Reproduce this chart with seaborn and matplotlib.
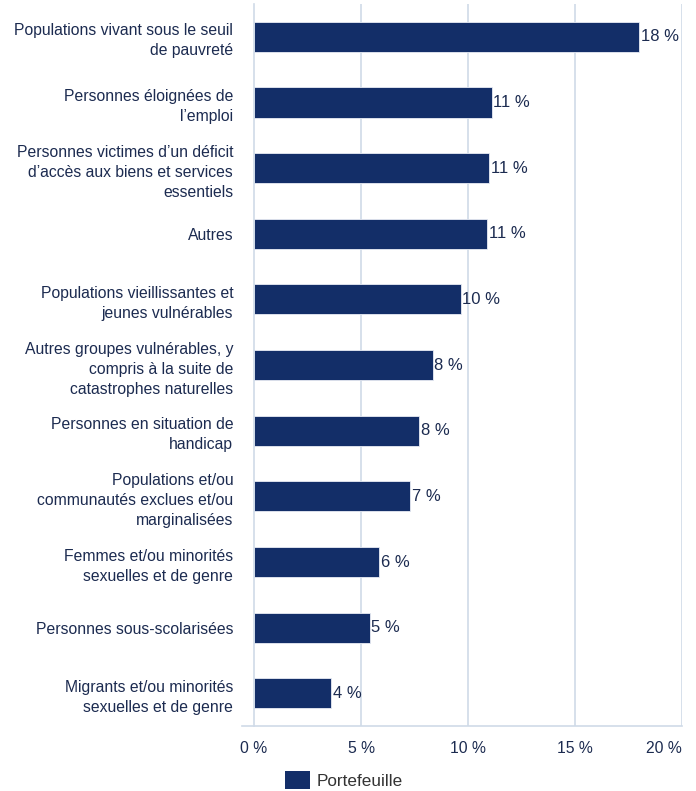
import matplotlib
matplotlib.use("Agg")
import matplotlib.pyplot as plt
import seaborn as sns
import pandas as pd
import numpy as np

categories = [
    "Populations vivant sous le seuil\nde pauvreté",
    "Personnes éloignées de\nl’emploi",
    "Personnes victimes d’un déficit\nd’accès aux biens et services\nessentiels",
    "Autres",
    "Populations vieillissantes et\njeunes vulnérables",
    "Autres groupes vulnérables, y\ncompris à la suite de\ncatastrophes naturelles",
    "Personnes en situation de\nhandicap",
    "Populations et/ou\ncommunautés exclues et/ou\nmarginalisées",
    "Femmes et/ou minorités\nsexuelles et de genre",
    "Personnes sous-scolarisées",
    "Migrants et/ou minorités\nsexuelles et de genre",
]
values = [18.0, 11.1, 11.0, 10.9, 9.65, 8.35, 7.7, 7.3, 5.85, 5.4, 3.6]
labels = ["18 %", "11 %", "11 %", "11 %", "10 %", "8 %", "8 %", "7 %", "6 %", "5 %", "4 %"]
xticks = [0, 5, 10, 15, 20]
xticklabels = ["0 %", "5 %", "10 %", "15 %", "20 %"]
series_name = "Portefeuille"

sns.set_theme(style="white")
plt.rcParams['font.family'] = ['Liberation Sans', 'DejaVu Sans']

navy = "#132e68"
textc = "#1c2b50"
gridc = "#cfdae8"
fs = 11.3

df = pd.DataFrame({"cat": categories, "val": values, "s": series_name})

fig = plt.figure(figsize=(6.96, 7.91), dpi=100)
ax = fig.add_axes([0.365, 0.082, 0.615, 0.913])
sns.barplot(data=df, y="cat", x="val", hue="s", palette=[navy], orient="h",
            width=0.46, ax=ax, legend=False, saturation=1,
            edgecolor="#e8ecf4", linewidth=0.6)

for p, lab in zip(ax.patches, labels):
    ax.text(p.get_width() + 0.08, p.get_y() + p.get_height() / 2, lab,
            va="center", ha="left", fontsize=12, color=textc)

ax.set_xlim(0, 20)
ax.set_ylim(len(categories) - 0.5, -0.5)
ax.set_xticks(xticks)
ax.set_xticklabels(xticklabels, fontsize=fs, color=textc)
ax.get_xticklabels()[-1].set_horizontalalignment("right")
ax.set_yticks(range(len(categories)))
ax.set_yticklabels(categories, fontsize=fs, color=textc, linespacing=1.42)
ax.tick_params(axis="y", length=0, pad=15)
ax.tick_params(axis="x", length=0, pad=11)
ax.set_yticks(np.arange(-0.5, len(categories), 1.0), minor=True)
ax.tick_params(axis="y", which="minor", length=12, color=gridc, width=1.2)
ax.set_xlabel("")
ax.set_ylabel("")
for x in xticks[1:]:
    ax.axvline(x, color=gridc, lw=1.2, zorder=0)
for s in ["top", "right"]:
    ax.spines[s].set_visible(False)
ax.spines["left"].set_color(gridc)
ax.spines["left"].set_linewidth(1.2)
ax.spines["bottom"].set_color(gridc)
ax.spines["bottom"].set_linewidth(1.2)
ax.spines["bottom"].set_bounds(-0.55, 20)
ax.spines["bottom"].set_clip_on(False)

handle = matplotlib.patches.Patch(facecolor=navy, edgecolor="none", label=series_name)
fig.legend(handles=[handle], loc="center left", bbox_to_anchor=(0.388, 0.014),
           frameon=False, fontsize=12.3, labelcolor="#333333",
           handlelength=1.45, handleheight=1.2, handletextpad=0.4)

fig.savefig("out.png", dpi=100)
